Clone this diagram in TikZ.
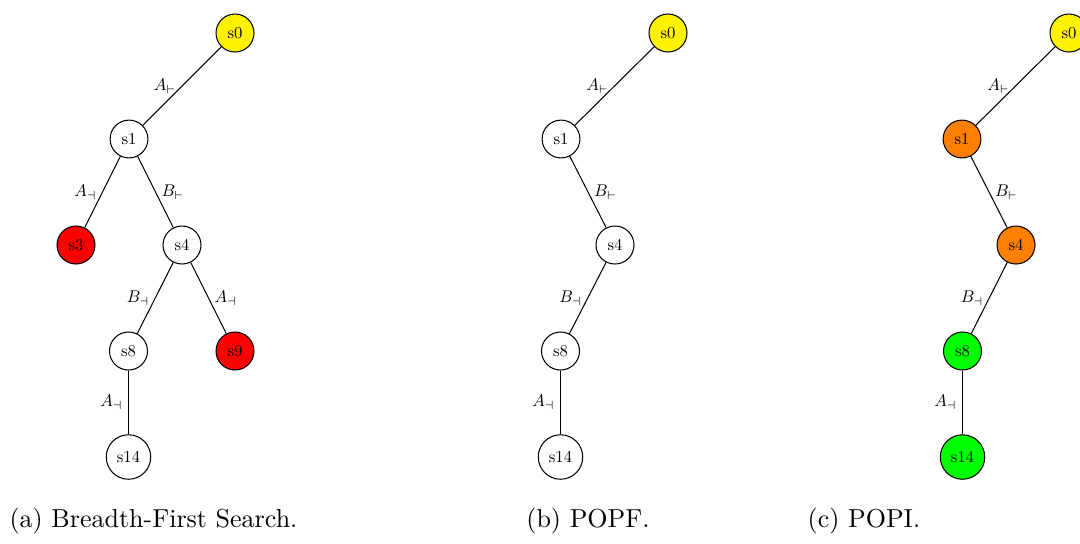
\documentclass[tikz,border=0pt]{standalone}
\usepackage{fontspec}
\newcommand{\nt}[1]{\scalebox{0.64}{#1}}
\newcommand{\lt}[1]{\scalebox{0.65}{#1}}
\begin{document}
\begin{tikzpicture}[x=0.3846pt,y=-0.3846pt,
  st/.style={circle,draw,line width=0.4pt,inner sep=2.62pt},
  lab/.style={inner sep=2.2pt},
  captext/.style={anchor=base,inner sep=0pt,font=\fontsize{10}{12}\selectfont},
  con/.style={line width=0.4pt}]
\useasboundingbox (0,0) rectangle (1080,543);
% panel (a)
\node[st,fill=yellow] (a0) at (235,33) {\nt{s0}};
\node[st] (a1) at (129,139) {\nt{s1}};
\node[st,fill=red] (a3) at (76,245) {\nt{s3}};
\node[st] (a4) at (182,245) {\nt{s4}};
\node[st] (a8) at (128.5,351) {\nt{s8}};
\node[st,fill=red] (a9) at (235,351) {\nt{s9}};
\node[st] (a14) at (128.5,457) {\nt{s14}};
\draw[con] (a0) -- node[lab,left] {\lt{$A_{\vdash}$}} (a1);
\draw[con] (a1) -- node[lab,left] {\lt{$A_{\dashv}$}} (a3);
\draw[con] (a1) -- node[lab,right] {\lt{$B_{\vdash}$}} (a4);
\draw[con] (a4) -- node[lab,left] {\lt{$B_{\dashv}$}} (a8);
\draw[con] (a4) -- node[lab,right] {\lt{$A_{\dashv}$}} (a9);
\draw[con] (a8) -- node[lab,left] {\lt{$A_{\dashv}$}} (a14);
% panel (b)
\node[st,fill=yellow] (b0) at (668,33) {\nt{s0}};
\node[st] (b1) at (561,139) {\nt{s1}};
\node[st] (b4) at (615,245) {\nt{s4}};
\node[st] (b8) at (560.5,351) {\nt{s8}};
\node[st] (b14) at (560.5,457) {\nt{s14}};
\draw[con] (b0) -- node[lab,left] {\lt{$A_{\vdash}$}} (b1);
\draw[con] (b1) -- node[lab,right] {\lt{$B_{\vdash}$}} (b4);
\draw[con] (b4) -- node[lab,left] {\lt{$B_{\dashv}$}} (b8);
\draw[con] (b8) -- node[lab,left] {\lt{$A_{\dashv}$}} (b14);
% panel (c)
\node[st,fill=yellow] (c0) at (1069,33) {\nt{s0}};
\node[st,fill=orange] (c1) at (962,139) {\nt{s1}};
\node[st,fill=orange] (c4) at (1016,245) {\nt{s4}};
\node[st,fill=green] (c8) at (962.5,351) {\nt{s8}};
\node[st,fill=green] (c14) at (962.5,457) {\nt{s14}};
\draw[con] (c0) -- node[lab,left] {\lt{$A_{\vdash}$}} (c1);
\draw[con] (c1) -- node[lab,right] {\lt{$B_{\vdash}$}} (c4);
\draw[con] (c4) -- node[lab,left] {\lt{$B_{\dashv}$}} (c8);
\draw[con] (c8) -- node[lab,left] {\lt{$A_{\dashv}$}} (c14);
% captions
\node[captext] (capa) at (153.5,527) {(a) Breadth-First Search.};
\node[captext] (capb) at (588,527) {(b) POPF.};
\node[captext] (capc) at (864,527) {(c) POPI.};
\end{tikzpicture}
\end{document}
